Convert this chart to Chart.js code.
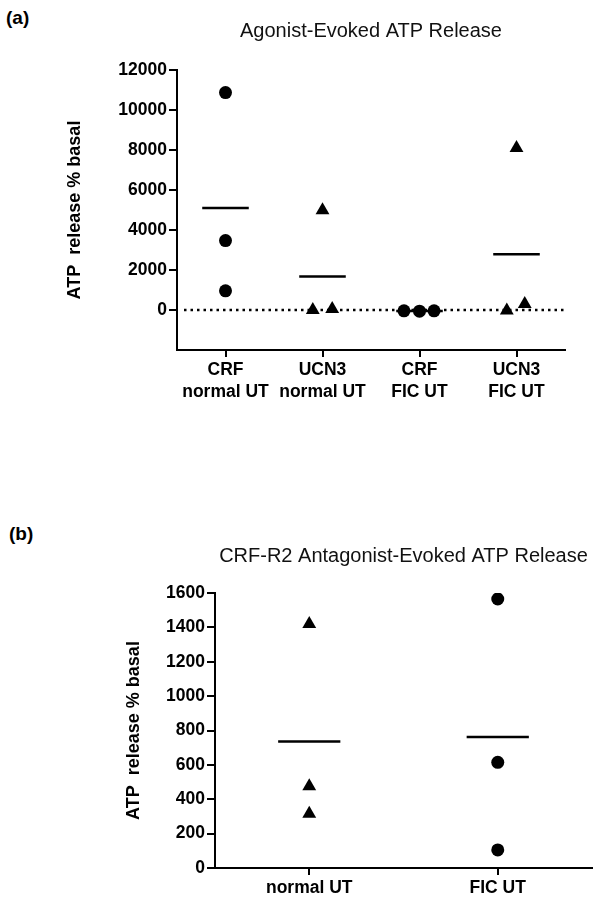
<!DOCTYPE html>
<html>
<head>
<meta charset="utf-8">
<script src="https://cdn.jsdelivr.net/npm/chart.js@4.4.0/dist/chart.umd.min.js"></script>
<style>
  body { margin: 0; background: #fff; }
  .panel { position: absolute; left: 0; width: 604px; }
  .tag { position: absolute; font: bold 19px "Liberation Sans", Arial, sans-serif; color: #000; }
</style>
</head>
<body>
<div class="tag" style="left:6px;top:7px">(a)</div>
<div class="panel" style="top:0;height:440px"><canvas id="chartA"></canvas></div>
<div class="tag" style="left:9px;top:523px">(b)</div>
<div class="panel" style="top:500px;height:405px"><canvas id="chartB"></canvas></div>
<script>
// (a) Agonist-evoked ATP release
const groupsA = [['CRF', 'normal UT'], ['UCN3', 'normal UT'], ['CRF', 'FIC UT'], ['UCN3', 'FIC UT']];
const crfNormal = [10870, 3470, 960];
const ucn3Normal = [4990, 0, 50];
const crfFic = [-40, -60, -40];
const ucn3Fic = [8100, -30, 300];
const jitterA = [[0, 0, 0], [0, -0.1, 0.1], [-0.16, 0, 0.15], [0, -0.1, 0.085]];
const markersA = ['circle', 'triangle', 'circle', 'triangle'];
const yTicksA = [0, 2000, 4000, 6000, 8000, 10000, 12000];

// (b) CRF-R2 antagonist-evoked ATP release
const groupsB = ['normal UT', 'FIC UT'];
const normalUT = [1420, 475, 315];
const ficUT = [1565, 615, 105];
const jitterB = [[0, 0, 0], [0, 0, 0]];
const markersB = ['triangle', 'circle'];
const yTicksB = [0, 200, 400, 600, 800, 1000, 1200, 1400, 1600];

const FONT = '"Liberation Sans", Arial, sans-serif';
const INK = '#000';
Chart.defaults.font.family = FONT;

const mean = arr => arr.reduce((a, b) => a + b, 0) / arr.length;

// dotted line at y = 0
const zeroLine = {
  id: 'zeroLine',
  beforeDatasetsDraw(chart, args, opts) {
    if (!opts.show) return;
    const { ctx, chartArea, scales } = chart;
    const y = scales.y.getPixelForValue(0);
    ctx.save();
    ctx.strokeStyle = INK;
    ctx.lineWidth = 2.5;
    ctx.setLineDash([2.5, 4]);
    ctx.beginPath();
    ctx.moveTo(chartArea.left + 7, y);
    ctx.lineTo(chartArea.right, y);
    ctx.stroke();
    ctx.restore();
  }
};

function buildDatasets(series, jitter, markers, halfWidth) {
  const sets = [];
  series.forEach((vals, i) => {
    sets.push({
      type: 'scatter',
      data: vals.map((v, k) => ({ x: i + jitter[i][k], y: v })),
      pointStyle: markers[i],
      pointRadius: markers[i] === 'triangle' ? 8 : 6.5,
      backgroundColor: INK,
      borderWidth: 0
    });
    const m = mean(vals);
    sets.push({
      type: 'line',
      data: [{ x: i - halfWidth, y: m }, { x: i + halfWidth, y: m }],
      borderColor: INK,
      borderWidth: 2.5,
      pointRadius: 0,
      fill: false
    });
  });
  return sets;
}

function makeChart(id, cfg) {
  new Chart(document.getElementById(id), {
    type: 'scatter',
    data: { datasets: buildDatasets(cfg.series, cfg.jitter, cfg.markers, cfg.halfWidth) },
    plugins: [zeroLine],
    options: {
      responsive: true,
      maintainAspectRatio: false,
      animation: false,
      layout: { padding: { left: 0, right: cfg.padRight, top: 0, bottom: 0 } },
      plugins: {
        legend: { display: false },
        tooltip: { enabled: false },
        zeroLine: { show: cfg.zero },
        title: {
          display: true,
          text: cfg.title,
          fullSize: false,
          color: '#111',
          font: { size: 20, weight: 'normal' },
          padding: cfg.titlePad
        }
      },
      scales: {
        x: {
          type: 'linear',
          min: -0.5,
          max: cfg.labels.length - 0.5,
          afterBuildTicks: s => { s.ticks = cfg.labels.map((_, i) => ({ value: i })); },
          afterFit: s => { s.height = cfg.xHeight; },
          ticks: {
            callback: v => cfg.labels[v],
            color: INK,
            font: { size: 17.5, weight: 'bold', lineHeight: 1.27 },
            padding: 2,
            maxRotation: 0,
            autoSkip: false
          },
          grid: { display: true, drawOnChartArea: false, drawTicks: true, tickLength: 7, color: INK, lineWidth: 2 },
          border: { display: true, color: INK, width: 2 }
        },
        y: {
          min: cfg.yMin,
          max: cfg.yMax,
          afterBuildTicks: s => { s.ticks = cfg.yTicks.map(v => ({ value: v })); },
          afterFit: s => { s.width = cfg.yWidth; },
          title: {
            display: true,
            text: 'ATP  release % basal',
            color: INK,
            font: { size: 18, weight: 'bold' },
            padding: { top: cfg.yTitleOffset, bottom: 0 }
          },
          ticks: {
            callback: v => String(v),
            color: INK,
            font: { size: 17.5, weight: 'bold' },
            padding: 2
          },
          grid: { display: true, drawOnChartArea: false, drawTicks: true, tickLength: 8, color: INK, lineWidth: 2 },
          border: { display: true, color: INK, width: 2 }
        }
      }
    }
  });
}

makeChart('chartA', {
  title: 'Agonist-Evoked ATP Release',
  labels: groupsA,
  series: [crfNormal, ucn3Normal, crfFic, ucn3Fic],
  jitter: jitterA,
  markers: markersA,
  halfWidth: 0.24,
  yMin: -2000, yMax: 12000, yTicks: yTicksA,
  zero: true,
  titlePad: { top: 19, bottom: 27 },
  xHeight: 90, yWidth: 177, padRight: 39,
  yTitleOffset: 64
});

makeChart('chartB', {
  title: 'CRF-R2 Antagonist-Evoked ATP Release',
  labels: groupsB,
  series: [normalUT, ficUT],
  jitter: jitterB,
  markers: markersB,
  halfWidth: 0.165,
  yMin: 0, yMax: 1600, yTicks: yTicksB,
  zero: false,
  titlePad: { top: 44, bottom: 25 },
  xHeight: 37, yWidth: 215, padRight: 12,
  yTitleOffset: 123
});
</script>
</body>
</html>
